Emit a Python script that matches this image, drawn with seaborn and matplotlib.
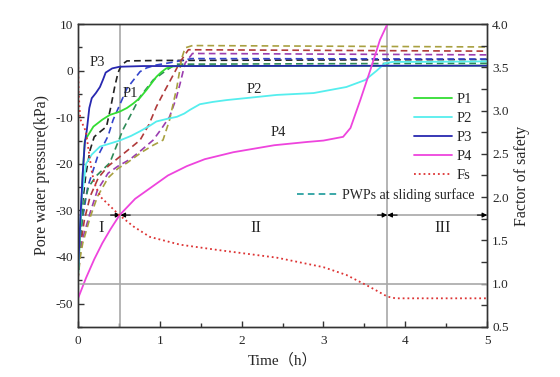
import numpy as np
import pandas as pd
import seaborn as sns
import matplotlib.pyplot as plt
from matplotlib.lines import Line2D
from matplotlib.ticker import MultipleLocator

# solid curves (pore water pressure, kPa) at the monitoring points
p1_t = [0, 0.02, 0.04, 0.06, 0.085, 0.12, 0.19, 0.30, 0.39, 0.51, 0.60, 0.68, 0.76, 0.84, 0.90, 0.96, 1.02, 1.08, 1.15, 1.25, 2.0, 3.0, 4.0, 5.0]
p1_v = [-45, -38, -30, -22, -15, -14, -12, -10.5, -9.5, -8.8, -8, -7, -5.8, -4.1, -2.7, -1.3, -0.3, 0.5, 0.9, 1.0, 1.0, 1.0, 1.05, 1.1]

p2_t = [0, 0.02, 0.05, 0.1, 0.17, 0.27, 0.4, 0.51, 0.65, 0.76, 0.88, 0.96, 1.1, 1.21, 1.3, 1.37, 1.49, 1.65, 1.82, 2.1, 2.43, 2.88, 3.28, 3.51, 3.65, 3.75, 3.85, 4.2, 5.0]
p2_v = [-45, -36, -27, -20, -18, -16.3, -15.6, -15, -14, -13, -11.8, -10.9, -10.3, -9.9, -9.2, -8.4, -7.2, -6.7, -6.3, -5.8, -5.2, -4.8, -3.5, -2.0, 0.0, 1.6, 1.9, 1.9, 2.0]

p3_t = [0, 0.015, 0.03, 0.06, 0.085, 0.11, 0.14, 0.17, 0.22, 0.27, 0.31, 0.34, 0.42, 0.51, 0.8, 1.5, 3.0, 5.0]
p3_v = [-45, -38, -32, -22, -15.5, -12.7, -8, -5.9, -4.8, -3.5, -1.8, -0.4, 0.5, 0.85, 1.0, 1.0, 1.05, 1.07]

p4_t = [0, 0.1, 0.2, 0.3, 0.4, 0.51, 0.7, 0.9, 1.1, 1.33, 1.55, 1.9, 2.4, 2.8, 3.0, 3.24, 3.33, 3.45, 3.57, 3.69, 3.78]
p4_v = [-49, -44.5, -40.5, -37, -34, -31, -27.5, -25, -22.5, -20.5, -19, -17.5, -16, -15.3, -15, -14.2, -12.3, -6.3, 0, 6.6, 10]

# factor of safety
fs_t = [0, 0.005, 0.01, 0.03, 0.08, 0.1, 0.13, 0.17, 0.2, 0.28, 0.4, 0.51, 0.68, 0.88, 1.25, 1.7, 2.43, 3.0, 3.28, 3.57, 3.78, 3.88, 4.2, 5.0]
fs_v = [3.78, 3.5, 3.2, 2.9, 2.8, 2.75, 2.55, 2.3, 2.16, 2.0, 1.89, 1.79, 1.66, 1.54, 1.45, 1.39, 1.30, 1.19, 1.10, 0.96, 0.85, 0.83, 0.83, 0.83]

# PWPs at sliding surface (dashed)
blk_t = [0, 0.03, 0.06, 0.1, 0.15, 0.2, 0.28, 0.35, 0.4, 0.45, 0.49, 0.53, 0.6, 1.0, 5.0]
blk_v = [-45, -36, -28, -22, -17, -14.2, -13, -12, -8, -3.5, -0.5, 1.2, 2.1, 2.2, 2.4]

blu_t = [0, 0.02, 0.05, 0.12, 0.24, 0.37, 0.43, 0.6, 0.76, 0.84, 0.95, 1.12, 1.39, 5.0]
blu_v = [-45, -38, -32.6, -25, -18.5, -14, -10.6, -3.8, -0.2, 0.6, 1.2, 1.7, 2.6, 2.5]

grn_t = [0, 0.03, 0.07, 0.13, 0.23, 0.39, 0.55, 0.66, 0.76, 0.92, 1.09, 1.2, 5.0]
grn_v = [-45, -36, -29, -25, -22.5, -19.8, -12.7, -9, -5.6, -2, 0.2, 1.4, 1.6]

red_t = [0, 0.03, 0.08, 0.15, 0.25, 0.37, 0.51, 0.65, 0.76, 0.87, 0.96, 1.04, 1.12, 1.25, 1.35, 5.0]
red_v = [-45, -38, -32, -27, -23, -20.5, -18.5, -16.5, -14.9, -11.5, -7.7, -5, -2.4, 1.9, 4.5, 4.2]

pur_t = [0, 0.03, 0.06, 0.15, 0.24, 0.37, 0.49, 0.64, 0.78, 0.92, 1.02, 1.12, 1.2, 1.25, 1.31, 1.4, 5.0]
pur_v = [-45, -39, -36, -30.5, -25.6, -22, -20.5, -19, -17, -14.9, -12.5, -9.9, -6, -2.7, 1.6, 3.7, 3.4]

olv_t = [0, 0.03, 0.06, 0.15, 0.24, 0.37, 0.49, 0.6, 0.78, 0.92, 1.04, 1.12, 1.21, 1.27, 1.31, 1.4, 5.0]
olv_v = [-45, -40, -37, -31.5, -27, -23, -21, -19.8, -17.5, -16, -14.9, -10.6, -3.5, 2.7, 4.9, 5.4, 5.1]

stage_bounds = [0, 0.52, 3.78, 5]
stage_names = ["I", "II", "III"]
stage_text_x = [0.29, 2.18, 4.45]

sns.set_style("ticks")
plt.rcParams['font.family'] = ['Liberation Serif', 'Noto Sans CJK SC']
plt.rcParams['axes.unicode_minus'] = False

fig = plt.figure(figsize=(5.6, 3.77), dpi=100)
ax = fig.add_axes([0.139, 0.133, 0.731, 0.803])
ax2 = ax.twinx()

grey = "#a8a8a8"
for b in stage_bounds[1:3]:
    ax.axvline(b, color=grey, lw=1.2, zorder=1)
ax2.axhline(1.0, color=grey, lw=1.2, zorder=1)
arrow_y = -31
ax.axhline(arrow_y, color=grey, lw=1.2, zorder=1)
for a, b in zip(stage_bounds[:-1], stage_bounds[1:]):
    for end, start in [(a, a + 0.12), (b, b - 0.12)]:
        if end == 0:
            continue
        ax.annotate("", xy=(end, arrow_y), xytext=(start, arrow_y),
                    arrowprops=dict(arrowstyle="-|>", color="black", lw=0.8,
                                    shrinkA=0, shrinkB=0, mutation_scale=7))
for x, name in zip(stage_text_x, stage_names):
    ax.text(x, -33.8, name, ha="center", va="center", fontsize=12)

dashed = [(blk_t, blk_v, "#222222"), (blu_t, blu_v, "#3344cc"), (grn_t, grn_v, "#2e8b57"),
          (red_t, red_v, "#b03a3a"), (pur_t, pur_v, "#9a3db0"), (olv_t, olv_v, "#a8a040")]
for t, v, c in dashed:
    sns.lineplot(x=t, y=v, ax=ax, color=c, lw=1.2, sort=False, zorder=2)
    ax.lines[-1].set_dashes((4, 2.5))

solid = [(p1_t, p1_v, "#33dd33", "P1"), (p2_t, p2_v, "#55eeee", "P2"),
         (p3_t, p3_v, "#2828b0", "P3"), (p4_t, p4_v, "#ee44dd", "P4")]
handles = []
for t, v, c, name in solid:
    sns.lineplot(x=t, y=v, ax=ax, color=c, lw=1.3, sort=False, zorder=3)
    handles.append(Line2D([], [], color=c, lw=1.3, label=name))

sns.lineplot(x=fs_t, y=fs_v, ax=ax2, color="#dd3333", lw=1.3, sort=False)
ax2.lines[-1].set_linestyle(":")
handles.append(Line2D([], [], color="#dd3333", lw=1.3, ls=":", label="Fs"))

ax.set_xlim(0, 5)
ax.set_ylim(-55, 10)
ax2.set_ylim(0.5, 4.0)
ax.xaxis.set_major_locator(MultipleLocator(1))
ax.xaxis.set_minor_locator(MultipleLocator(0.5))
ax.yaxis.set_major_locator(MultipleLocator(10))
ax.yaxis.set_minor_locator(MultipleLocator(5))
ax2.yaxis.set_major_locator(MultipleLocator(0.5))
ax2.yaxis.set_minor_locator(MultipleLocator(0.25))
ax.tick_params(which="both", direction="in", labelsize=9.5, width=1, color="#333333")
ax.tick_params(which="major", length=4)
ax.tick_params(which="minor", length=3)
ax.tick_params(axis="x", pad=6)
ax2.tick_params(which="both", direction="in", labelsize=9.5, length=4, width=1, color="#333333")
for a in (ax, ax2):
    for s in a.spines.values():
        s.set_visible(True)
        s.set_color("#333333")
        s.set_linewidth(1.0)

ax.set_xlabel("Time（h）", fontsize=11)
ax.set_ylabel("Pore water pressure(kPa)", fontsize=11.5)
ax2.set_ylabel("Factor of safety", fontsize=11.5, rotation=90)

ax.text(0.24, 1.8, "P3", fontsize=10.5, ha="center", va="center")
ax.text(0.64, -5.0, "P1", fontsize=10.5, ha="center", va="center")
ax.text(2.16, -4.0, "P2", fontsize=10.5, ha="center", va="center")
ax.text(2.45, -13.3, "P4", fontsize=10.5, ha="center", va="center")

leg1 = ax2.legend(handles=handles, loc="upper left", bbox_to_anchor=(408 / 560, 1 - 87 / 377),
                  bbox_transform=fig.transFigure, frameon=False, fontsize=10.5,
                  handlelength=2.6, handletextpad=0.35, labelspacing=0.4, borderaxespad=0)
ax2.add_artist(leg1)
pwp = Line2D([], [], color="#1a9a9a", lw=1.2, ls=(0, (4, 2.5)), label="PWPs at sliding surface")
ax2.legend(handles=[pwp], loc="upper left", bbox_to_anchor=(291 / 560, 1 - 183 / 377),
           bbox_transform=fig.transFigure, frameon=False, fontsize=10,
           handlelength=2.9, handletextpad=0.35, borderaxespad=0)

fig.savefig("out.png", dpi=100)
